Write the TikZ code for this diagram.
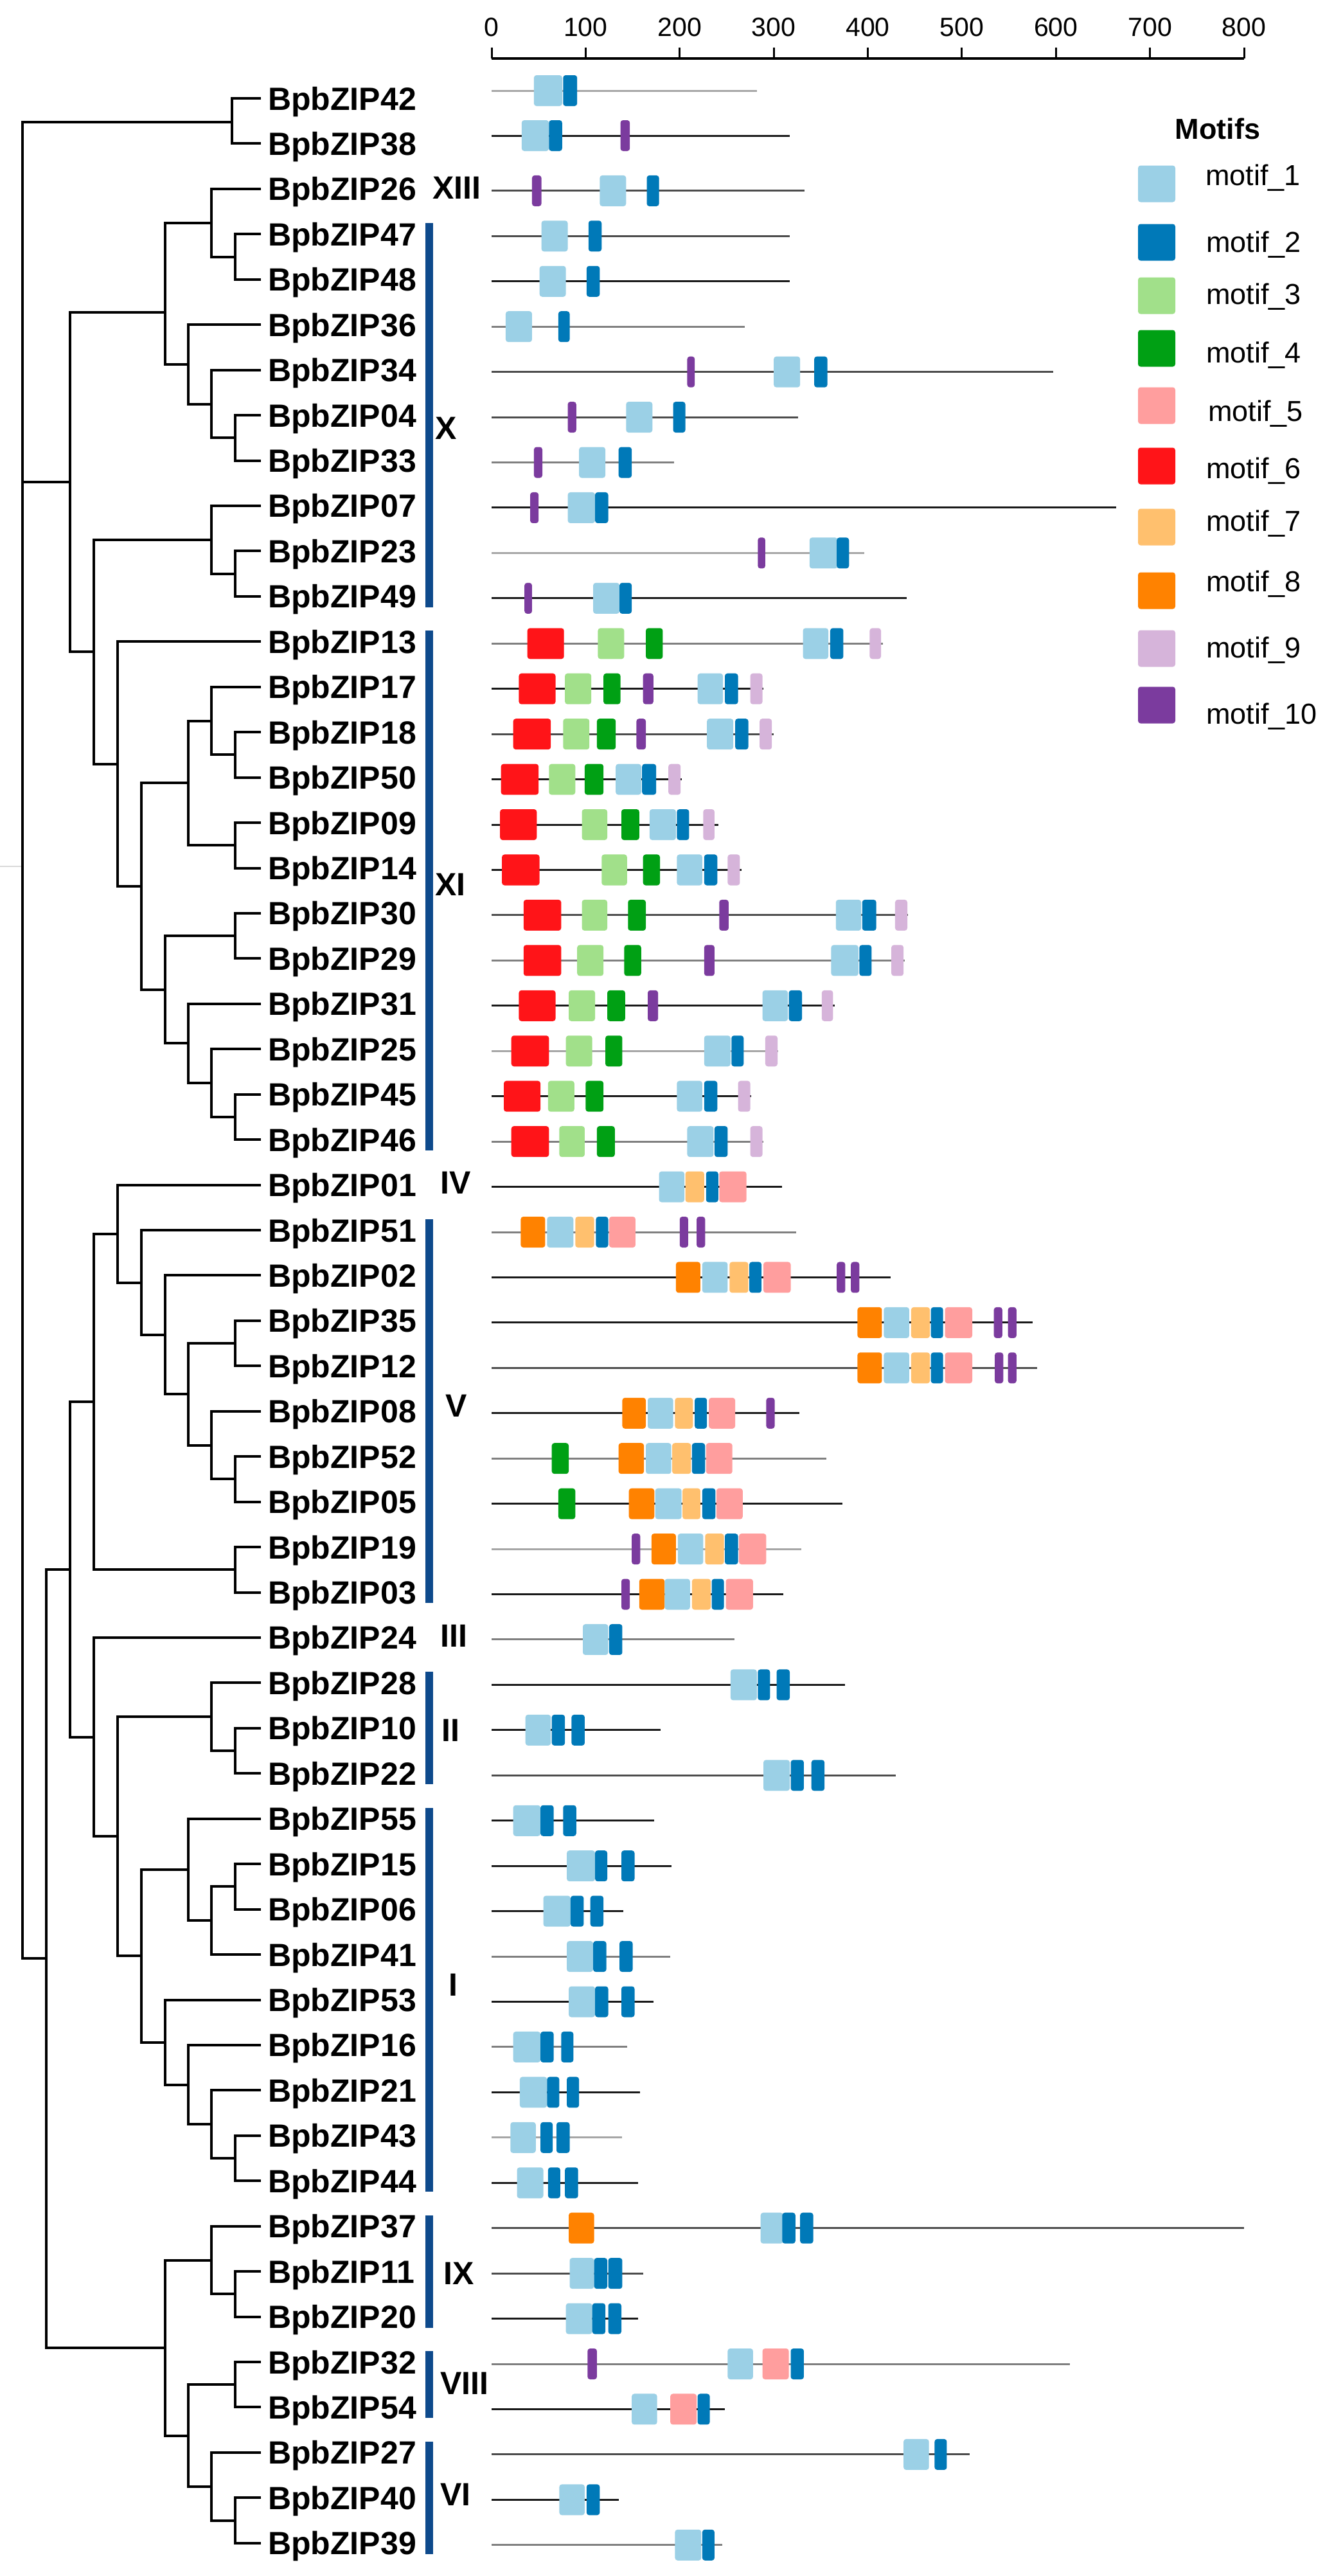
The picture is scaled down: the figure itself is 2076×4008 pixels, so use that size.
\documentclass[tikz,border=0pt]{standalone}
\usepackage{fontspec}
\setmainfont{Liberation Sans}
\definecolor{mot1}{RGB}{155,208,230}
\definecolor{mot2}{RGB}{0,121,184}
\definecolor{mot3}{RGB}{161,224,138}
\definecolor{mot4}{RGB}{0,160,20}
\definecolor{mot5}{RGB}{255,158,158}
\definecolor{mot6}{RGB}{255,20,24}
\definecolor{mot7}{RGB}{255,192,110}
\definecolor{mot8}{RGB}{255,130,0}
\definecolor{mot9}{RGB}{214,180,218}
\definecolor{mot10}{RGB}{123,59,158}
\definecolor{barc}{RGB}{14,74,140}
\newcommand\R[3]{\pgfmathsetmacro\Y{153+70.44*#1+3}\draw[#3] (0,\Y) -- (#2,\Y);}
\newcommand\RR[3]{\pgfmathsetmacro\Y{#1}\draw[#3] (0,\Y) -- (#2,\Y);}
\newcommand\B[3]{\fill[mot#1,rounded corners=4pt] (#2,{\Y-24}) rectangle (#3,{\Y+24});}
\newcommand\cl[3]{\draw[tr] (#2) -- (#2 -| #1) -- (#3 -| #1) -- (#3);}
\tikzset{
  tr/.style={line width=4pt, draw=black, line join=miter},
  lab/.style={font=\fontsize{50}{60}\selectfont\bfseries, anchor=base west, inner sep=0pt},
  grp/.style={font=\fontsize{50}{60}\selectfont\bfseries, anchor=west, inner sep=0pt},
  axl/.style={font=\fontsize{41}{48}\selectfont, inner sep=0pt},
  legt/.style={font=\fontsize{45}{54}\selectfont, anchor=base west, inner sep=0pt},
  lk/.style={line width=3pt, draw=black!90},
  ld/.style={line width=3pt, draw=black!70},
  lg/.style={line width=3pt, draw=black!50},
  ll/.style={line width=3pt, draw=black!35},
}
\begin{document}
\begin{tikzpicture}[x=1pt,y=-1pt]
\fill[white] (0,0) rectangle (2076,4008);
\useasboundingbox (0,0) rectangle (2076,4008);

% ---------- leaves and labels ----------
\foreach \i/\g in {0/42,1/38,2/26,3/47,4/48,5/36,6/34,7/04,8/33,9/07,10/23,11/49,12/13,13/17,14/18,15/50,16/09,17/14,18/30,19/29,20/31,21/25,22/45,23/46,24/01,25/51,26/02,27/35,28/12,29/08,30/52,31/05,32/19,33/03,34/24,35/28,36/10,37/22,38/55,39/15,40/06,41/41,42/53,43/16,44/21,45/43,46/44,47/37,48/11,49/20,50/32,51/54,52/27,53/40,54/39}{
  \coordinate (L\i) at (406,{153+70.44*\i});
  \node[lab] (g\g) at (417,{153+70.44*\i+18}) {BpbZIP\g};
}

% ---------- internal tree nodes ----------
\coordinate (nP0) at (361,190);
\coordinate (nD) at (366,399.6);
\coordinate (nC) at (329,346.7);
\coordinate (nG) at (366,681.3);
\coordinate (nF) at (329,628.5);
\coordinate (nE) at (293,566.8);
\coordinate (nB) at (257,486);
\coordinate (nJ) at (366,892.6);
\coordinate (nI) at (329,839.8);
\coordinate (nO) at (366,1174.4);
\coordinate (nN) at (329,1121.6);
\coordinate (nP) at (366,1315.3);
\coordinate (nM) at (293,1218.4);
\coordinate (nR) at (366,1456.2);
\coordinate (nU) at (366,1737.9);
\coordinate (nT) at (329,1685.1);
\coordinate (nS) at (293,1623.4);
\coordinate (nQ) at (257,1539.8);
\coordinate (nL) at (220,1379.1);
\coordinate (nK) at (183,1188.7);
\coordinate (nH) at (146,1014.3);
\coordinate (nA) at (109,750);
\coordinate (nAC) at (366,2090.1);
\coordinate (nAE) at (366,2301.4);
\coordinate (nAD) at (329,2248.6);
\coordinate (nAB) at (293,2169.4);
\coordinate (nAA) at (257,2076.9);
\coordinate (nZ) at (220,1995.5);
\coordinate (nY) at (183,1919.6);
\coordinate (nAF) at (366,2442.3);
\coordinate (nX) at (146,2181);
\coordinate (nAJ) at (366,2724);
\coordinate (nAI) at (329,2671.2);
\coordinate (nAN) at (366,2935.4);
\coordinate (nAM) at (329,2988.2);
\coordinate (nAL) at (293,2909);
\coordinate (nAR) at (366,3358);
\coordinate (nAQ) at (329,3305.2);
\coordinate (nAP) at (293,3243.6);
\coordinate (nAO) at (257,3177.5);
\coordinate (nAK) at (220,3043.3);
\coordinate (nAH) at (183,2857.3);
\coordinate (nAG) at (146,2702.6);
\coordinate (nW) at (109,2441.8);
\coordinate (nAU) at (366,3569.4);
\coordinate (nAT) at (329,3516.6);
\coordinate (nAW) at (366,3710.2);
\coordinate (nAY) at (366,3921.6);
\coordinate (nAX) at (329,3868.8);
\coordinate (nAV) at (293,3789.5);
\coordinate (nAS) at (257,3653);
\coordinate (nV) at (72,3047.4);
\coordinate (root) at (35,1600);

\cl{nP0}{L0}{L1}
\cl{nD}{L3}{L4}
\cl{nC}{L2}{nD}
\cl{nG}{L7}{L8}
\cl{nF}{L6}{nG}
\cl{nE}{L5}{nF}
\cl{nB}{nC}{nE}
\cl{nJ}{L10}{L11}
\cl{nI}{L9}{nJ}
\cl{nO}{L14}{L15}
\cl{nN}{L13}{nO}
\cl{nP}{L16}{L17}
\cl{nM}{nN}{nP}
\cl{nR}{L18}{L19}
\cl{nU}{L22}{L23}
\cl{nT}{L21}{nU}
\cl{nS}{L20}{nT}
\cl{nQ}{nR}{nS}
\cl{nL}{nM}{nQ}
\cl{nK}{L12}{nL}
\cl{nH}{nI}{nK}
\cl{nA}{nB}{nH}
\cl{nAC}{L27}{L28}
\cl{nAE}{L30}{L31}
\cl{nAD}{L29}{nAE}
\cl{nAB}{nAC}{nAD}
\cl{nAA}{L26}{nAB}
\cl{nZ}{L25}{nAA}
\cl{nY}{L24}{nZ}
\cl{nAF}{L32}{L33}
\cl{nX}{nY}{nAF}
\cl{nAJ}{L36}{L37}
\cl{nAI}{L35}{nAJ}
\cl{nAN}{L39}{L40}
\cl{nAM}{nAN}{L41}
\cl{nAL}{L38}{nAM}
\cl{nAR}{L45}{L46}
\cl{nAQ}{L44}{nAR}
\cl{nAP}{L43}{nAQ}
\cl{nAO}{L42}{nAP}
\cl{nAK}{nAL}{nAO}
\cl{nAH}{nAI}{nAK}
\cl{nAG}{L34}{nAH}
\cl{nW}{nX}{nAG}
\cl{nAU}{L48}{L49}
\cl{nAT}{L47}{nAU}
\cl{nAW}{L50}{L51}
\cl{nAY}{L53}{L54}
\cl{nAX}{L52}{nAY}
\cl{nAV}{nAW}{nAX}
\cl{nAS}{nAT}{nAV}
\cl{nV}{nW}{nAS}
\draw[tr] (nP0) -- (nP0 -| root) -- (nV -| root) -- (nV);
\draw[tr] (nA) -- (nA -| root);
\draw[line width=2pt, black!15] (0,1348) -- (33,1348);

% ---------- group bars and labels ----------
\fill[barc] (662,347) rectangle (674,945);
\fill[barc] (662,981) rectangle (674,1790);
\fill[barc] (662,1897) rectangle (674,2494);
\fill[barc] (662,2601) rectangle (674,2776);
\fill[barc] (662,2813) rectangle (674,3410);
\fill[barc] (662,3447) rectangle (674,3622);
\fill[barc] (662,3658) rectangle (674,3762);
\fill[barc] (662,3799) rectangle (674,3974);
\node[grp] (gXIII) at (673,292) {XIII};
\node[grp] (gX) at (677,666) {X};
\node[grp] (gXI) at (677,1376) {XI};
\node[grp] (gIV) at (685,1840) {IV};
\node[grp] (gV) at (693,2187) {V};
\node[grp] (gIII) at (685,2545) {III};
\node[grp] (gII) at (687,2692) {II};
\node[grp] (gI) at (698,3088) {I};
\node[grp] (gIX) at (690,3537) {IX};
\node[grp] (gVIII) at (685,3708) {VIII};
\node[grp] (gVI) at (685,3881) {VI};

% ---------- axis ----------
\draw[line width=4.5pt] (765,91) -- (1936,91);
\foreach \k in {0,...,8}{
  \draw[line width=3pt] ({765+146.38*\k},91) -- ({765+146.38*\k},74);
  \node[axl] (ax\k) at ({765+146.38*\k},42) {\pgfmathparse{int(100*\k)}\pgfmathresult};
}

% ---------- motifs ----------
\begin{scope}[shift={(765,0)}, x=1.4638pt]
\RR{141}{282}{ll} \B{1}{45}{75}\B{2}{76}{91}
\RR{211}{317}{lk} \B{1}{32}{61}\B{2}{61}{75}\B{10}{137}{147}
\R{2}{333}{ld} \B{10}{43}{53}\B{1}{115}{143}\B{2}{165}{178}
\R{3}{317}{ld} \B{1}{53}{81}\B{2}{103}{117}
\R{4}{317}{lk} \B{1}{51}{79}\B{2}{101}{115}
\R{5}{269}{lg} \B{1}{15}{43}\B{2}{71}{83}
\R{6}{597}{ld} \B{10}{208}{216}\B{1}{300}{328}\B{2}{343}{357}
\R{7}{326}{ld} \B{10}{81}{90}\B{1}{143}{171}\B{2}{193}{206}
\R{8}{194}{lg} \B{10}{45}{54}\B{1}{93}{121}\B{2}{135}{149}
\R{9}{664}{lk} \B{10}{41}{50}\B{1}{81}{110}\B{2}{110}{124}
\R{10}{396}{ll} \B{10}{283}{291}\B{1}{338}{368}\B{2}{367}{380}
\R{11}{441}{lk} \B{10}{35}{43}\B{1}{108}{136}\B{2}{136}{149}
\R{12}{416}{lg} \B{6}{38}{77}\B{3}{113}{141}\B{4}{164}{182}\B{1}{331}{358}\B{2}{360}{374}\B{9}{402}{414}
\R{13}{289}{lk} \B{6}{29}{68}\B{3}{78}{106}\B{4}{119}{137}\B{10}{161}{172}\B{1}{219}{246}\B{2}{248}{262}\B{9}{275}{288}
\R{14}{300}{ld} \B{6}{23}{63}\B{3}{76}{104}\B{4}{112}{132}\B{10}{154}{164}\B{1}{229}{257}\B{2}{259}{273}\B{9}{285}{298}
\R{15}{202}{lk} \B{6}{10}{50}\B{3}{61}{89}\B{4}{99}{119}\B{1}{132}{159}\B{2}{160}{175}\B{9}{188}{201}
\R{16}{241}{lk} \B{6}{9}{48}\B{3}{96}{123}\B{4}{138}{157}\B{1}{168}{196}\B{2}{197}{210}\B{9}{225}{237}
\R{17}{266}{lk} \B{6}{11}{51}\B{3}{117}{144}\B{4}{161}{179}\B{1}{197}{224}\B{2}{226}{240}\B{9}{251}{264}
\R{18}{443}{ld} \B{6}{34}{74}\B{3}{96}{123}\B{4}{145}{164}\B{10}{242}{252}\B{1}{366}{393}\B{2}{394}{409}\B{9}{429}{442}
\R{19}{439}{lg} \B{6}{34}{74}\B{3}{91}{119}\B{4}{141}{159}\B{10}{226}{237}\B{1}{361}{390}\B{2}{391}{404}\B{9}{425}{438}
\R{20}{365}{lk} \B{6}{29}{68}\B{3}{82}{110}\B{4}{123}{142}\B{10}{166}{177}\B{1}{288}{315}\B{2}{316}{330}\B{9}{351}{363}
\R{21}{305}{ll} \B{6}{21}{61}\B{3}{79}{107}\B{4}{121}{139}\B{1}{226}{254}\B{2}{255}{268}\B{9}{291}{304}
\R{22}{276}{lk} \B{6}{13}{52}\B{3}{60}{88}\B{4}{100}{119}\B{1}{197}{224}\B{2}{226}{240}\B{9}{262}{275}
\R{23}{289}{lg} \B{6}{21}{61}\B{3}{72}{99}\B{4}{112}{131}\B{1}{208}{236}\B{2}{237}{251}\B{9}{275}{288}
\R{24}{309}{lk} \B{1}{178}{205}\B{7}{206}{226}\B{2}{228}{241}\B{5}{242}{271}
\R{25}{324}{lg} \B{8}{31}{57}\B{1}{59}{87}\B{7}{89}{109}\B{2}{111}{124}\B{5}{125}{153}\B{10}{200}{209}\B{10}{218}{227}
\R{26}{424}{lk} \B{8}{196}{222}\B{1}{224}{251}\B{7}{253}{273}\B{2}{274}{287}\B{5}{289}{318}\B{10}{367}{376}\B{10}{382}{391}
\R{27}{575}{lk} \B{8}{389}{415}\B{1}{417}{444}\B{7}{446}{466}\B{2}{467}{480}\B{5}{482}{511}\B{10}{534}{543}\B{10}{549}{558}
\R{28}{580}{ld} \B{8}{389}{415}\B{1}{417}{444}\B{7}{446}{466}\B{2}{467}{480}\B{5}{482}{511}\B{10}{535}{544}\B{10}{549}{558}
\R{29}{327}{lk} \B{8}{139}{164}\B{1}{166}{193}\B{7}{195}{214}\B{2}{216}{229}\B{5}{231}{259}\B{10}{292}{301}
\R{30}{356}{lg} \B{4}{64}{82}\B{8}{135}{162}\B{1}{164}{191}\B{7}{192}{212}\B{2}{213}{227}\B{5}{228}{256}
\R{31}{373}{lk} \B{4}{71}{89}\B{8}{146}{173}\B{1}{174}{202}\B{7}{203}{222}\B{2}{224}{238}\B{5}{239}{267}
\R{32}{329}{ll} \B{10}{149}{158}\B{8}{170}{196}\B{1}{198}{225}\B{7}{227}{247}\B{2}{248}{262}\B{5}{263}{292}
\R{33}{310}{lk} \B{10}{138}{147}\B{8}{157}{184}\B{1}{184}{211}\B{7}{213}{233}\B{2}{234}{247}\B{5}{249}{278}
\R{34}{258}{lg} \B{1}{97}{124}\B{2}{125}{139}
\R{35}{376}{lk} \B{1}{254}{282}\B{2}{283}{296}\B{2}{303}{317}
\R{36}{180}{lk} \B{1}{36}{63}\B{2}{64}{78}\B{2}{85}{99}
\R{37}{430}{ld} \B{1}{289}{317}\B{2}{318}{332}\B{2}{340}{354}
\R{38}{173}{lk} \B{1}{23}{52}\B{2}{52}{66}\B{2}{76}{90}
\R{39}{191}{lk} \B{1}{80}{110}\B{2}{110}{123}\B{2}{138}{152}
\R{40}{140}{lk} \B{1}{55}{84}\B{2}{84}{98}\B{2}{105}{119}
\R{41}{190}{lg} \B{1}{80}{108}\B{2}{108}{122}\B{2}{136}{150}
\R{42}{172}{lk} \B{1}{82}{110}\B{2}{110}{124}\B{2}{138}{152}
\R{43}{144}{lg} \B{1}{23}{52}\B{2}{52}{66}\B{2}{74}{87}
\R{44}{158}{lk} \B{1}{30}{59}\B{2}{59}{72}\B{2}{80}{93}
\R{45}{139}{ll} \B{1}{20}{47}\B{2}{52}{65}\B{2}{69}{83}
\R{46}{156}{lk} \B{1}{27}{55}\B{2}{60}{73}\B{2}{78}{92}
\R{47}{800}{ld} \B{8}{82}{109}\B{1}{286}{310}\B{2}{309}{323}\B{2}{328}{342}
\R{48}{161}{ld} \B{1}{83}{109}\B{2}{109}{123}\B{2}{124}{139}
\R{49}{156}{lk} \B{1}{79}{107}\B{2}{107}{121}\B{2}{124}{138}
\R{50}{615}{lg} \B{10}{102}{112}\B{1}{251}{278}\B{5}{288}{316}\B{2}{318}{332}
\R{51}{248}{lk} \B{1}{149}{176}\B{5}{190}{218}\B{2}{219}{232}
\R{52}{508}{ld} \B{1}{438}{465}\B{2}{471}{484}
\R{53}{135}{lk} \B{1}{72}{99}\B{2}{101}{115}
\R{54}{245}{lg} \B{1}{195}{223}\B{2}{224}{237}
\end{scope}

% ---------- legend ----------
\node[font=\fontsize{45}{54}\selectfont\bfseries, inner sep=0pt] (legtitle) at (1895,200) {Motifs};
\foreach \k/\sy/\ty/\tx in {1/286/272/1876, 2/377/376/1877, 3/460/457/1877, 4/542/548/1877, 5/631/639/1880, 6/725/728/1877, 7/820/810/1877, 8/919/904/1877, 9/1009/1007/1877, 10/1097/1110/1877}{
  \fill[mot\k, rounded corners=4pt] (1771,{\sy-28.5}) rectangle (1829,{\sy+28.5});
  \node[legt] (leg\k) at (\tx,{\ty+16}) {motif\_\k};
}
\end{tikzpicture}
\end{document}
